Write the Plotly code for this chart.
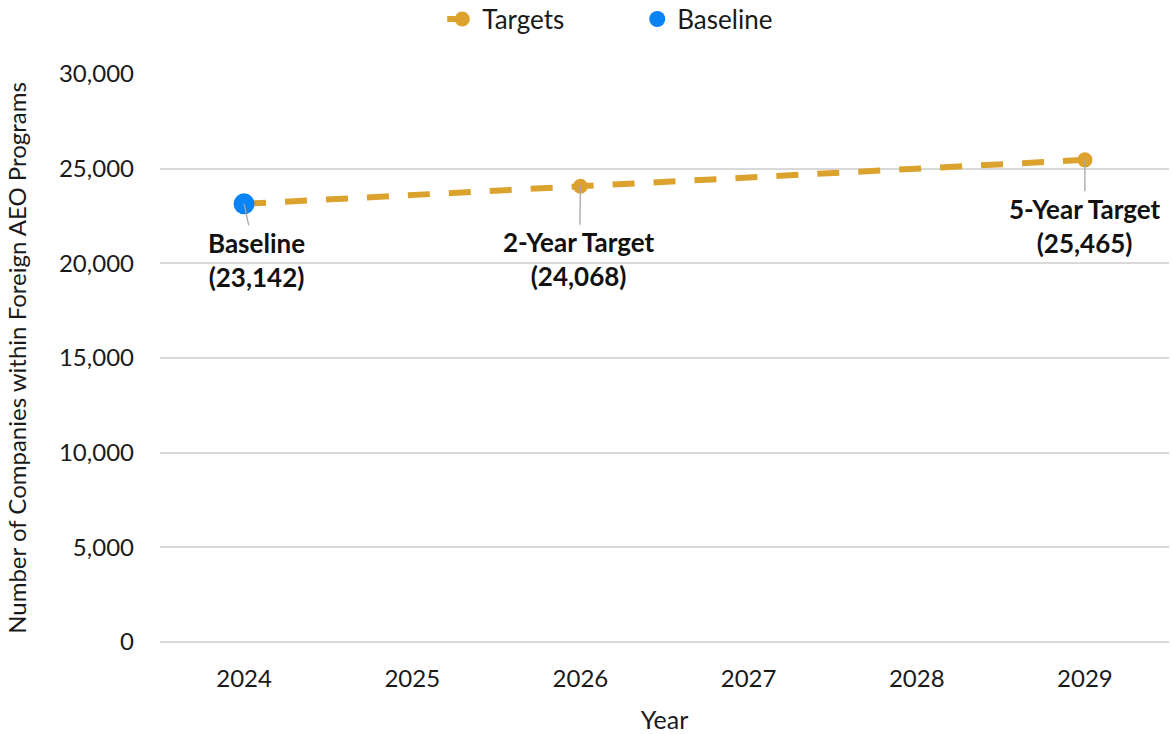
import plotly.graph_objects as go

# Chart data
years = ["2024", "2025", "2026", "2027", "2028", "2029"]
target_values = [23142, None, 24068, None, None, 25465]
baseline_years = ["2024"]
baseline_values = [23142]

label_years = ["2024", "2026", "2029"]
label_values = [23142, 24068, 25465]
label_names = ["Baseline", "2-Year Target", "5-Year Target"]

y_ticks = [0, 5000, 10000, 15000, 20000, 25000, 30000]

FONT = "Lato, 'Noto Sans', sans-serif"
GOLD = "#DBA22E"
BLUE = "#0A84F5"

fig = go.Figure()

fig.add_trace(go.Scatter(
    x=years, y=target_values, name="Targets", mode="lines+markers",
    connectgaps=True,
    line=dict(color=GOLD, width=6, dash="22px,19px"),
    marker=dict(color=GOLD, size=15),
))

fig.add_trace(go.Scatter(
    x=baseline_years, y=baseline_values, name="Baseline", mode="markers",
    marker=dict(color=BLUE, size=21),
))

# Callout labels with leader lines (x given as category index)
offsets = [(12, 56), (-1, 73), (0, 66)]
for yr, val, name, (ax, ay) in zip(label_years, label_values, label_names, offsets):
    fig.add_annotation(
        x=years.index(yr), y=val, xref="x", yref="y",
        text=f"<b>{name}<br>({val:,})</b>",
        showarrow=True, arrowhead=0, arrowwidth=1.3, arrowcolor="#A6A6A6",
        ax=ax, ay=ay, font=dict(family=FONT, size=26, color="#111111"),
        align="center", borderpad=1,
    )

fig.update_layout(
    width=1172, height=734,
    margin=dict(l=160, r=3, t=74, b=92),
    paper_bgcolor="white", plot_bgcolor="white",
    font=dict(family=FONT, size=24, color="#1a1a1a"),
    showlegend=True,
    legend=dict(orientation="h", x=0.473, xanchor="center", y=0.974, yanchor="middle",
                yref="container", font=dict(size=26), entrywidth=150),
    xaxis=dict(
        type="category", range=[-0.5, 5.5], showgrid=False, showline=False,
        ticks="", tickfont=dict(size=24), ticklabelstandoff=20,
        title=dict(text="Year", font=dict(size=25), standoff=20),
    ),
    yaxis=dict(
        range=[0, 30000], tickvals=y_ticks, tickformat=",",
        showgrid=True, gridcolor="#D9D9D9", gridwidth=1.5,
        zeroline=True, zerolinecolor="#D9D9D9", zerolinewidth=1.5,
        showline=False, ticks="", ticklabelstandoff=25,
        tickfont=dict(size=24),
        title=dict(text="Number of Companies within Foreign AEO Programs",
                   font=dict(size=24), standoff=25),
    ),
)

fig.write_html("out.html")
